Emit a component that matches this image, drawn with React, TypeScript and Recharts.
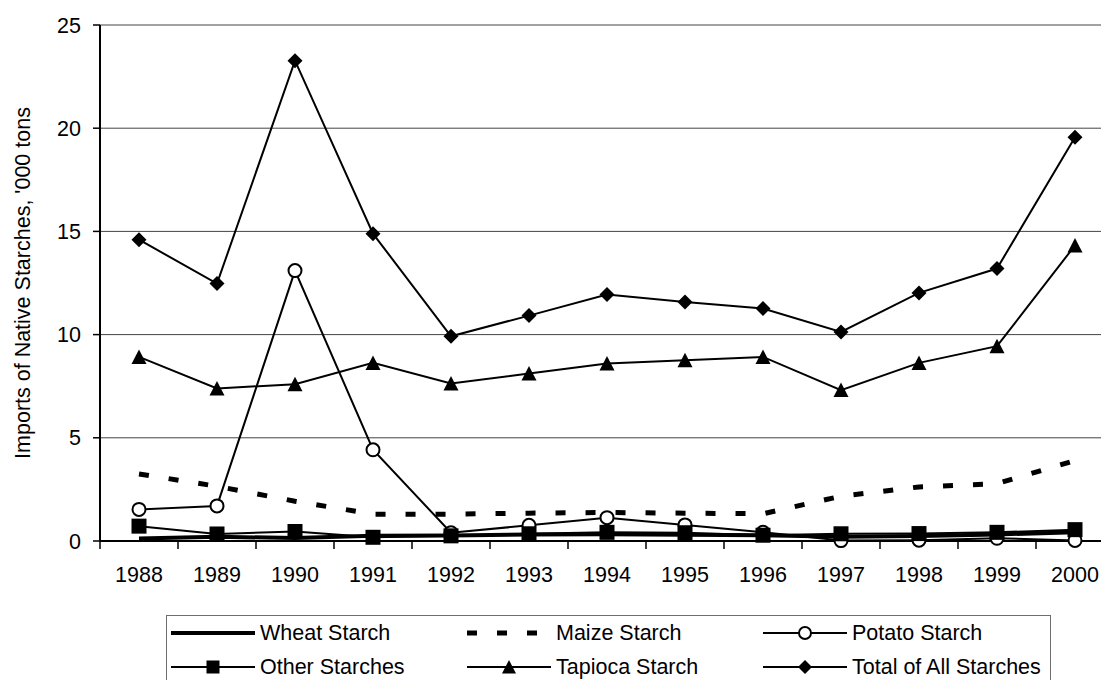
import React from 'react';
import { LineChart, Line, XAxis, YAxis, CartesianGrid, Legend } from 'recharts';

const YEARS = ['1988', '1989', '1990', '1991', '1992', '1993', '1994', '1995', '1996', '1997', '1998', '1999', '2000'];

// '000 tons
const WHEAT = [0.12, 0.2, 0.15, 0.25, 0.27, 0.32, 0.33, 0.3, 0.28, 0.2, 0.24, 0.32, 0.42];
const MAIZE = [3.25, 2.65, 1.93, 1.3, 1.3, 1.35, 1.38, 1.35, 1.32, 2.17, 2.62, 2.78, 3.9];
const POTATO = [1.53, 1.7, 13.1, 4.42, 0.4, 0.76, 1.13, 0.78, 0.42, 0.02, 0.04, 0.13, 0.03];
const OTHER = [0.72, 0.34, 0.46, 0.18, 0.25, 0.35, 0.42, 0.4, 0.28, 0.35, 0.36, 0.42, 0.55];
const TAPIOCA = [8.92, 7.39, 7.6, 8.63, 7.63, 8.11, 8.6, 8.76, 8.92, 7.31, 8.63, 9.44, 14.32];
const TOTAL = [14.6, 12.47, 23.27, 14.89, 9.92, 10.92, 11.94, 11.58, 11.26, 10.13, 12.02, 13.2, 19.56];

const Y_TICKS = [0, 5, 10, 15, 20, 25];

const CHART_W = 1130;
const CHART_H = 680;
const Y_AXIS_W = 100;
const X_AXIS_H = 40;
const MARGIN = { top: 25, right: 16, left: 0, bottom: 99 };
const HALF_BAND = (CHART_W - MARGIN.left - MARGIN.right - Y_AXIS_W) / YEARS.length / 2;
const AXIS_Y = CHART_H - MARGIN.bottom - X_AXIS_H;

const FONT = '"Liberation Sans", Arial, sans-serif';
const FS = 21.5;

const data = YEARS.map((year, i) => ({
  year,
  wheat: WHEAT[i],
  maize: MAIZE[i],
  potato: POTATO[i],
  other: OTHER[i],
  tapioca: TAPIOCA[i],
  total: TOTAL[i],
}));

const Square = ({ cx, cy, s = 15 }: any) => (
  <rect x={cx - s / 2} y={cy - s / 2} width={s} height={s} fill="#000" />
);
const Circle = ({ cx, cy, r = 6.5 }: any) => (
  <circle cx={cx} cy={cy} r={r} fill="#fff" stroke="#000" strokeWidth={2} />
);
const Triangle = ({ cx, cy, s = 15 }: any) => (
  <polygon points={`${cx},${cy - s / 2} ${cx + s / 2},${cy + s / 2 - 0.5} ${cx - s / 2},${cy + s / 2 - 0.5}`} fill="#000" />
);
const Diamond = ({ cx, cy, s = 7.5 }: any) => (
  <polygon points={`${cx},${cy - s} ${cx + s},${cy} ${cx},${cy + s} ${cx - s},${cy}`} fill="#000" />
);

// tick marks sit between the categories, like the original spreadsheet chart
const YearTick = (props: any) => {
  const { x, payload } = props;
  return (
    <g>
      <line x1={x - HALF_BAND} x2={x - HALF_BAND} y1={AXIS_Y} y2={AXIS_Y + 8} stroke="#000" strokeWidth={1.5} />
      <text x={x} y={AXIS_Y + 41} textAnchor="middle" fontSize={FS} fontFamily={FONT} fill="#000">
        {payload.value}
      </text>
    </g>
  );
};

const LEGEND_ITEMS = [
  { name: 'Wheat Starch', kind: 'wheat' },
  { name: 'Maize Starch', kind: 'maize' },
  { name: 'Potato Starch', kind: 'potato' },
  { name: 'Other Starches', kind: 'other' },
  { name: 'Tapioca Starch', kind: 'tapioca' },
  { name: 'Total of All Starches', kind: 'total' },
];

const LegendIcon = ({ kind }: { kind: string }) => {
  const w = 84;
  const c = w / 2;
  return (
    <svg width={w} height={20} style={{ display: 'block', flex: 'none' }}>
      {kind === 'wheat' && <line x1={0} x2={w} y1={10} y2={10} stroke="#000" strokeWidth={4} />}
      {kind === 'maize' && <line x1={0} x2={w} y1={10} y2={10} stroke="#000" strokeWidth={5} strokeDasharray="10 20" />}
      {kind !== 'wheat' && kind !== 'maize' && <line x1={0} x2={w} y1={10} y2={10} stroke="#000" strokeWidth={2} />}
      {kind === 'potato' && <Circle cx={c} cy={10} r={6} />}
      {kind === 'other' && <Square cx={c} cy={10} s={13} />}
      {kind === 'tapioca' && <Triangle cx={c} cy={10} s={14} />}
      {kind === 'total' && <Diamond cx={c} cy={10} s={7} />}
    </svg>
  );
};

const renderLegend = () => (
  <div
    style={{
      boxSizing: 'border-box',
      width: 885,
      height: 72,
      border: '1.5px solid #6e6e6e',
      background: '#fff',
      paddingLeft: 4,
      display: 'grid',
      gridTemplateColumns: '296px 296px 285px',
      gridAutoRows: '34px',
      fontFamily: FONT,
      fontSize: FS,
      color: '#000',
    }}
  >
    {LEGEND_ITEMS.map((it) => (
      <div key={it.kind} style={{ display: 'flex', alignItems: 'center', whiteSpace: 'nowrap' }}>
        <LegendIcon kind={it.kind} />
        <span style={{ marginLeft: 5, lineHeight: '34px' }}>{it.name}</span>
      </div>
    ))}
  </div>
);

export default function App() {
  return (
    <div style={{ position: 'fixed', left: 0, top: 0, width: 1101, height: 680, overflow: 'hidden', background: '#fff' }}>
      <LineChart width={CHART_W} height={CHART_H} data={data} margin={MARGIN}>
        <CartesianGrid vertical={false} stroke="#444" strokeWidth={1} />
        <XAxis
          dataKey="year"
          height={X_AXIS_H}
          padding={{ left: HALF_BAND, right: HALF_BAND }}
          tickLine={false}
          tickSize={7}
          tickMargin={0}
          axisLine={{ stroke: '#000', strokeWidth: 2 }}
          tick={YearTick}
          interval={0}
        />
        <YAxis
          width={Y_AXIS_W}
          domain={[0, 25]}
          ticks={Y_TICKS}
          tickSize={7}
          tickMargin={12}
          axisLine={{ stroke: '#000', strokeWidth: 2 }}
          tickLine={{ stroke: '#000', strokeWidth: 1.5 }}
          tick={{ fontSize: FS, fontFamily: FONT, fill: '#000' }}
          label={{
            value: "Imports of Native Starches, '000 tons",
            angle: -90,
            position: 'insideLeft',
            offset: 22,
            textAnchor: 'middle',
            style: { fontSize: FS, fontFamily: FONT, fill: '#000', textAnchor: 'middle' },
          }}
        />
        <Legend layout="horizontal" verticalAlign="middle" align="center" content={renderLegend} wrapperStyle={{ left: 166, top: 615, width: 885, height: 72 }} />
        <Line dataKey="wheat" name="Wheat Starch" stroke="#000" strokeWidth={4} dot={false} activeDot={false} isAnimationActive={false} />
        <Line dataKey="maize" name="Maize Starch" stroke="#000" strokeWidth={5} strokeDasharray="10 20" dot={false} activeDot={false} isAnimationActive={false} />
        <Line
          dataKey="potato"
          name="Potato Starch"
          stroke="#000"
          strokeWidth={2}
          dot={(p: any) => <Circle key={`c-${p.index}`} cx={p.cx} cy={p.cy} />}
          activeDot={false}
          isAnimationActive={false}
        />
        <Line
          dataKey="other"
          name="Other Starches"
          stroke="#000"
          strokeWidth={2}
          dot={(p: any) => <Square key={`s-${p.index}`} cx={p.cx} cy={p.cy} />}
          activeDot={false}
          isAnimationActive={false}
        />
        <Line
          dataKey="tapioca"
          name="Tapioca Starch"
          stroke="#000"
          strokeWidth={2}
          dot={(p: any) => <Triangle key={`t-${p.index}`} cx={p.cx} cy={p.cy} />}
          activeDot={false}
          isAnimationActive={false}
        />
        <Line
          dataKey="total"
          name="Total of All Starches"
          stroke="#000"
          strokeWidth={2}
          dot={(p: any) => <Diamond key={`d-${p.index}`} cx={p.cx} cy={p.cy} />}
          activeDot={false}
          isAnimationActive={false}
        />
      </LineChart>
    </div>
  );
}
